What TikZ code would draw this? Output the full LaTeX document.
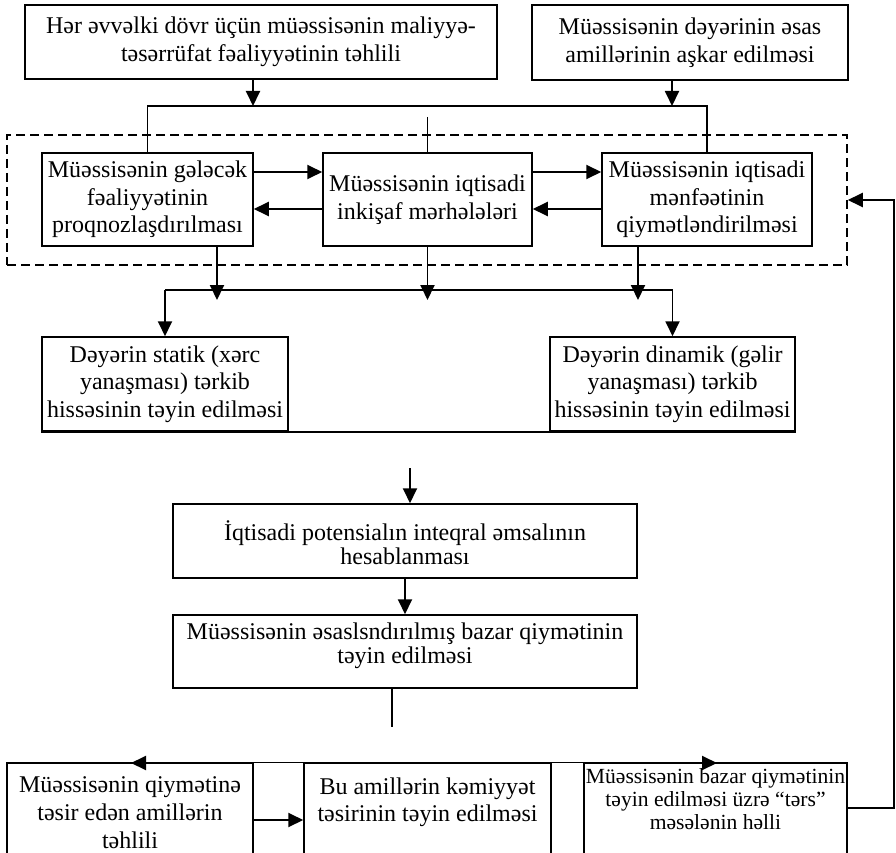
\documentclass[tikz,border=0pt]{standalone}
\usepackage{fontspec}
\setmainfont{Liberation Serif}
\usetikzlibrary{arrows.meta}
\begin{document}
\begin{tikzpicture}[x=1pt,y=-1pt,
  box/.style={draw,line width=1.5pt,rectangle,inner sep=0pt,align=center,font=\fontsize{24}{27.5}\selectfont},
  arr/.style={line width=1.9pt,-{Triangle[length=15pt,width=14pt]}},
  ln/.style={line width=1.5pt},
  txt/.style={inner sep=0pt,align=center,anchor=north}]
\useasboundingbox (0,0) rectangle (896,853);
\clip (0,0) rectangle (896,853);
% top boxes
\node[box,minimum width=472pt,minimum height=74pt] (b1) at (261,42) {Hər əvvəlki dövr üçün müəssisənin maliyyə-\\təsərrüfat fəaliyyətinin təhlili};
\node[box,minimum width=316pt,minimum height=75pt] (b2) at (690,42.5) {Müəssisənin dəyərinin əsas\\amillərinin aşkar edilməsi};
% dashed group
\node[draw,line width=1.5pt,dash pattern=on 9pt off 5pt,minimum width=840pt,minimum height=130pt,inner sep=0pt] (dsh) at (427,200) {};
\node[box,minimum width=211pt,minimum height=93pt] (gel) at (147.5,199.5) {Müəssisənin gələcək\\fəaliyyətinin\\proqnozlaşdırılması};
\node[box,minimum width=209pt,minimum height=93pt] (ink) at (427.5,199.5) {Müəssisənin iqtisadi\\inkişaf mərhələləri};
\node[box,minimum width=210pt,minimum height=93pt] (men) at (707,199.5) {Müəssisənin iqtisadi\\mənfəətinin\\qiymətləndirilməsi};
% static / dynamic
\node[box,minimum width=246pt,minimum height=94pt] (sta) at (165,384) {Dəyərin statik (xərc\\yanaşması) tərkib\\hissəsinin təyin edilməsi};
\node[box,minimum width=245pt,minimum height=94pt] (din) at (672.5,384) {Dəyərin dinamik (gəlir\\yanaşması) tərkib\\hissəsinin təyin edilməsi};
% middle column
\node[box,minimum width=464pt,minimum height=74pt] (int) at (405,541) {};
\node[txt,font=\fontsize{24}{22}\selectfont] (intt) at (405,520.6) {\strut İqtisadi potensialın inteqral əmsalının\\hesablanması};
\node[box,minimum width=464pt,minimum height=73pt] (baz) at (405,651.5) {};
\node[txt,font=\fontsize{24}{22}\selectfont] (bazt) at (405,622.6) {\strut Müəssisənin əsaslsndırılmış bazar qiymətinin\\təyin edilməsi};
% bottom row
\node[box,minimum width=246pt,minimum height=117pt] (bl) at (130,821.5) {};
\node[txt,font=\fontsize{24}{28}\selectfont] (blt) at (130,772.4) {\strut Müəssisənin qiymətinə\\təsir edən amillərin\\təhlili};
\node[box,minimum width=247pt,minimum height=117pt] (bm) at (427.5,821.5) {};
\node[txt,font=\fontsize{24}{27}\selectfont] (bmt) at (427.5,775.4) {\strut Bu amillərin kəmiyyət\\təsirinin təyin edilməsi};
\node[box,minimum width=263pt,minimum height=117pt] (br) at (715.5,821.5) {};
\node[txt,font=\fontsize{21.6}{23}\selectfont] (brt) at (715.5,766.9) {\strut Müəssisənin bazar qiymətinin\\təyin edilməsi üzrə “tərs”\\məsələnin həlli};
% connectors top
\coordinate (j1) at (147.5,106);
\coordinate (j2) at (707,106);
\draw[ln] (j1 |- gel.north) -- (j1) -- (j2) -- (j2 |- men.north);
\draw[arr] ([xshift=-8pt]b1.south) -- ([xshift=-8pt]b1.south |- j1);
\draw[arr] ([xshift=-18pt]b2.south) -- ([xshift=-18pt]b2.south |- j1);
\coordinate (m0) at (427.5,117);
\draw[ln] (m0) -- (ink.north);
\draw[arr] ([yshift=27.5pt]gel.east) -- ([yshift=27.5pt]gel.east -| ink.west);
\draw[arr] ([yshift=-9.5pt]ink.west) -- ([yshift=-9.5pt]ink.west -| gel.east);
\draw[arr] ([yshift=27.5pt]ink.east) -- ([yshift=27.5pt]ink.east -| men.west);
\draw[arr] ([yshift=-9.5pt]men.west) -- ([yshift=-9.5pt]men.west -| ink.east);
% down to static / dynamic
\coordinate (h1) at (165,290);
\coordinate (h2) at (672.5,290);
\coordinate (hy) at (0,300);
\draw[ln] (h1) -- (h2);
\draw[arr] (h1) -- (sta.north);
\draw[arr] (h2) -- (din.north);
\draw[arr] ([xshift=69.5pt]gel.south) -- ([xshift=69.5pt]gel.south |- hy);
\draw[arr] (ink.south) -- (ink.south |- hy);
\draw[arr] ([xshift=-69pt]men.south) -- ([xshift=-69pt]men.south |- hy);
\draw[ln] (sta.south west) -- (din.south east);
% middle column
\coordinate (a0) at (410,468);
\draw[arr] (a0) -- (a0 |- int.north);
\draw[arr] (int.south) -- (baz.north);
\coordinate (l0) at (392,727);
\draw[ln] (baz.south -| l0) -- (l0);
% bottom row
\draw[ln] (bl.north west) -- (br.north east);
\coordinate (la1) at (154,763);
\coordinate (la2) at (131,763);
\draw[arr] (la1) -- (la2);
\coordinate (ra1) at (694,763);
\coordinate (ra2) at (717,763);
\draw[arr] (ra1) -- (ra2);
\draw[arr] ([yshift=1.5pt]bl.east) -- ([yshift=1.5pt]bl.east -| bm.west);
\coordinate (fb) at (894,500);
\draw[arr] ([yshift=13.5pt]br.east) -| (fb) |- (dsh.east);
\end{tikzpicture}
\end{document}
